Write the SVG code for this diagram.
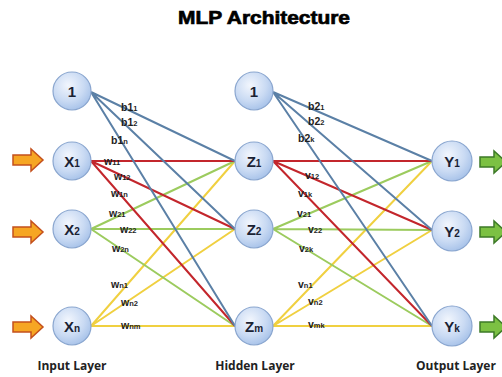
<svg xmlns="http://www.w3.org/2000/svg" width="502" height="377" viewBox="0 0 502 377">
<defs>
<radialGradient id="nodeGrad" cx="0.4" cy="0.35" r="0.7">
<stop offset="0" stop-color="#f2f6fd"/>
<stop offset="0.6" stop-color="#c9daf3"/>
<stop offset="1" stop-color="#a4c0e8"/>
</radialGradient>
</defs>
<style>
.node{fill:url(#nodeGrad);stroke:#8aa6cf;stroke-width:1.2}
.nt{font-family:"Liberation Sans",Arial,sans-serif;font-weight:bold;font-size:15px;fill:#1a2233;text-anchor:middle}
.lbl{font-family:"Liberation Sans",Arial,sans-serif;font-weight:bold;font-size:10.5px;fill:#1e1e1e}
.sub{font-size:7.5px}
.layer{font-family:"Open Sans","Liberation Sans",sans-serif;font-weight:bold;font-size:12px;fill:#222;text-anchor:middle}
.bl{stroke:#5b80a6;stroke-width:2;fill:none}
.rd{stroke:#c3262c;stroke-width:2;fill:none}
.gr{stroke:#9ccb5e;stroke-width:2;fill:none}
.yl{stroke:#f0d040;stroke-width:2;fill:none}
.inarrow{fill:#f6a623;stroke:#c4501c;stroke-width:1.5}
.outarrow{fill:#7cc143;stroke:#3d7a27;stroke-width:1.5}
</style>
<rect width="502" height="377" fill="#ffffff"/>
<text x="264" y="24" font-family="'Liberation Sans',Arial,sans-serif" font-weight="bold" font-size="19" text-anchor="middle" fill="#000" stroke="#000" stroke-width="0.7" textLength="172" lengthAdjust="spacingAndGlyphs">MLP Architecture</text>
<g id="connectors">
<path class="yl" d="M91,326 L235,161 M91,326 L235,229 M91,326 L235,326"/>
<path class="gr" d="M91,229 L235,161 M91,229 L235,229 M91,229 L235,326"/>
<path class="rd" d="M91,161 L235,161 M91,161 L235,229 M91,161 L235,326"/>
<path class="bl" d="M91,92 L235,161 M91,92 L235,229 M91,92 L235,326"/>
<path class="yl" d="M273,326 L432,161 M273,326 L432,230 M273,326 L432,326"/>
<path class="gr" d="M273,229 L432,161 M273,229 L432,230 M273,229 L432,326"/>
<path class="rd" d="M273,161 L432,161 M273,161 L432,230 M273,161 L432,326"/>
<path class="bl" d="M273,92 L432,161 M273,92 L432,230 M273,92 L432,326"/>
</g>
<g id="labels">
<text class="lbl" x="121" y="111">b1<tspan class="sub">1</tspan></text>
<text class="lbl" x="121" y="126">b1<tspan class="sub">2</tspan></text>
<text class="lbl" x="111" y="144">b1<tspan class="sub">n</tspan></text>
<text class="lbl" x="104" y="165">w<tspan class="sub">11</tspan></text>
<text class="lbl" x="114" y="180">w<tspan class="sub">12</tspan></text>
<text class="lbl" x="111" y="197">w<tspan class="sub">1n</tspan></text>
<text class="lbl" x="109" y="217">w<tspan class="sub">21</tspan></text>
<text class="lbl" x="120" y="233">w<tspan class="sub">22</tspan></text>
<text class="lbl" x="112" y="252">w<tspan class="sub">2n</tspan></text>
<text class="lbl" x="111" y="288">w<tspan class="sub">n1</tspan></text>
<text class="lbl" x="121" y="306">w<tspan class="sub">n2</tspan></text>
<text class="lbl" x="121" y="329">w<tspan class="sub">nm</tspan></text>
<text class="lbl" x="308" y="110">b2<tspan class="sub">1</tspan></text>
<text class="lbl" x="308" y="125">b2<tspan class="sub">2</tspan></text>
<text class="lbl" x="298" y="142">b2<tspan class="sub">k</tspan></text>
<text class="lbl" x="305" y="179">v<tspan class="sub">12</tspan></text>
<text class="lbl" x="298" y="197">v<tspan class="sub">1k</tspan></text>
<text class="lbl" x="297" y="217">v<tspan class="sub">21</tspan></text>
<text class="lbl" x="308" y="233">v<tspan class="sub">22</tspan></text>
<text class="lbl" x="299" y="252">v<tspan class="sub">2k</tspan></text>
<text class="lbl" x="298" y="288">v<tspan class="sub">n1</tspan></text>
<text class="lbl" x="308" y="305">v<tspan class="sub">n2</tspan></text>
<text class="lbl" x="308" y="328">v<tspan class="sub">mk</tspan></text>
</g>
<g id="arrows">
<path class="inarrow" d="M13,155 L31,155 L31,149 L43,160 L31,171 L31,165 L13,165 Z"/>
<path class="inarrow" d="M13,227 L31,227 L31,221 L43,232 L31,243 L31,237 L13,237 Z"/>
<path class="inarrow" d="M13,322 L31,322 L31,316 L43,327 L31,338 L31,332 L13,332 Z"/>
<path class="outarrow" d="M480,157 L494,157 L494,151 L506,162 L494,173 L494,167 L480,167 Z"/>
<path class="outarrow" d="M480,227 L494,227 L494,221 L506,232 L494,243 L494,237 L480,237 Z"/>
<path class="outarrow" d="M480,322 L494,322 L494,316 L506,327 L494,338 L494,332 L480,332 Z"/>
</g>
<g id="node-b1"><circle class="node" cx="72" cy="91" r="19"/><text class="nt" x="72" y="97">1</text></g>
<g id="node-x1"><circle class="node" cx="72" cy="161" r="19"/><text class="nt" x="72" y="167">X<tspan font-size="10">1</tspan></text></g>
<g id="node-x2"><circle class="node" cx="72" cy="229" r="19"/><text class="nt" x="72" y="235">X<tspan font-size="10">2</tspan></text></g>
<g id="node-xn"><circle class="node" cx="72" cy="326" r="19"/><text class="nt" x="72" y="332">X<tspan font-size="10">n</tspan></text></g>
<g id="node-b2"><circle class="node" cx="254" cy="91" r="19"/><text class="nt" x="254" y="97">1</text></g>
<g id="node-z1"><circle class="node" cx="254" cy="161" r="19"/><text class="nt" x="254" y="167">Z<tspan font-size="10">1</tspan></text></g>
<g id="node-z2"><circle class="node" cx="254" cy="229" r="19"/><text class="nt" x="254" y="235">Z<tspan font-size="10">2</tspan></text></g>
<g id="node-zm"><circle class="node" cx="254" cy="326" r="19"/><text class="nt" x="254" y="332">Z<tspan font-size="10">m</tspan></text></g>
<g id="node-y1"><circle class="node" cx="452" cy="161" r="20"/><text class="nt" x="452" y="167">Y<tspan font-size="10">1</tspan></text></g>
<g id="node-y2"><circle class="node" cx="452" cy="231" r="20"/><text class="nt" x="452" y="237">Y<tspan font-size="10">2</tspan></text></g>
<g id="node-yk"><circle class="node" cx="452" cy="326" r="20"/><text class="nt" x="452" y="332">Y<tspan font-size="10">k</tspan></text></g>
<g id="layer-labels">
<text class="layer" x="72" y="370">Input Layer</text>
<text class="layer" x="255" y="370">Hidden Layer</text>
<text class="layer" x="456" y="370">Output Layer</text>
</g>
</svg>
